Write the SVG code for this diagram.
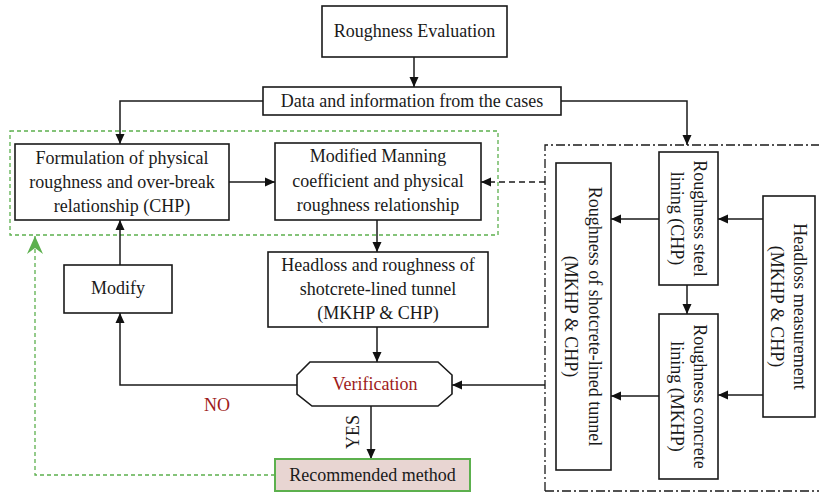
<svg xmlns="http://www.w3.org/2000/svg" width="819" height="494" viewBox="0 0 819 494">
  <defs>
    <style>
      .box { fill: #ffffff; stroke: #1a1a1a; stroke-width: 1.6; }
      .lbl { font-family: "Liberation Serif", "Times New Roman", serif; font-size: 18px; fill: #1a1a1a; text-anchor: middle; }
      .red { fill: #9e1b1b; }
      .wire { fill: none; stroke: #1a1a1a; stroke-width: 1.5; }
      .dash { stroke-dasharray: 6 4; }
      .green { fill: none; stroke: #5cb04e; stroke-width: 1.3; stroke-dasharray: 4 3; }
      .dashdot { fill: none; stroke: #1a1a1a; stroke-width: 1.3; stroke-dasharray: 9 3 2 3; }
    </style>
    <marker id="arrow" viewBox="0 0 10 10" refX="10" refY="5" markerWidth="10" markerHeight="10" markerUnits="userSpaceOnUse" orient="auto">
      <path d="M0,0.5 L10,5 L0,9.5 Z" fill="#111111"/>
    </marker>
    <marker id="garrow" viewBox="0 0 18 16" refX="18" refY="8" markerWidth="18" markerHeight="16" markerUnits="userSpaceOnUse" orient="auto">
      <path d="M0,0 L18,8 L0,16 L6,8 Z" fill="#5cb04e"/>
    </marker>
  </defs>

  <rect width="819" height="494" fill="#ffffff"/>

  <!-- grouping frames -->
  <rect x="10" y="131" width="488" height="104" class="green"/>
  <path d="M545,491 L545,145 L830,145" class="dashdot"/>
  <path d="M545,491 L830,491" class="dashdot" stroke-width="2.2"/>

  <g id="connectors">
    <path d="M414,57 L414,87" class="wire" marker-end="url(#arrow)"/>
    <path d="M263,101 L120,101 L120,144" class="wire" marker-end="url(#arrow)"/>
    <path d="M561,101 L687,101 L687,145" class="wire" marker-end="url(#arrow)"/>
    <path d="M229,182 L275,182" class="wire" marker-end="url(#arrow)"/>
    <path d="M545,182 L481,182" class="wire dash" marker-end="url(#arrow)"/>
    <path d="M377,220 L377,252" class="wire" marker-end="url(#arrow)"/>
    <path d="M377,327 L377,362" class="wire" marker-end="url(#arrow)"/>
    <path d="M120,265 L120,220" class="wire" marker-end="url(#arrow)"/>
    <path d="M297,385 L120,385 L120,313" class="wire" marker-end="url(#arrow)"/>
    <path d="M371,406 L371,459" class="wire" marker-end="url(#arrow)"/>
    <path d="M545,385 L452,385" class="wire" marker-end="url(#arrow)"/>
    <path d="M763,219 L718,219" class="wire" marker-end="url(#arrow)"/>
    <path d="M659,219 L611,219" class="wire" marker-end="url(#arrow)"/>
    <path d="M687,285 L687,314" class="wire" marker-end="url(#arrow)"/>
    <path d="M763,395 L718,395" class="wire" marker-end="url(#arrow)"/>
    <path d="M659,396 L611,396" class="wire" marker-end="url(#arrow)"/>
    <path d="M275,475 L35,475 L35,236" fill="none" stroke="#5cb04e" stroke-width="1.3" stroke-dasharray="4 3" marker-end="url(#garrow)"/>
    <text x="217" y="411" class="lbl red">NO</text>
    <text transform="translate(353,432) rotate(-90)" y="6" class="lbl">YES</text>
  </g>

  <g id="roughness-evaluation">
    <rect x="322" y="6" width="185" height="51" class="box"/>
    <text x="414.5" y="37" class="lbl">Roughness Evaluation</text>
  </g>

  <g id="data-cases">
    <rect x="263" y="87" width="298" height="28" class="box"/>
    <text x="412" y="107" class="lbl">Data and information from the cases</text>
  </g>

  <g id="formulation">
    <rect x="15" y="144" width="214" height="76" class="box"/>
    <text class="lbl"><tspan x="122" y="164">Formulation of physical</tspan><tspan x="122" y="188">roughness and over-break</tspan><tspan x="122" y="212">relationship (CHP)</tspan></text>
  </g>

  <g id="modified-manning">
    <rect x="275" y="143" width="206" height="77" class="box"/>
    <text class="lbl"><tspan x="378" y="162">Modified Manning</tspan><tspan x="378" y="187">coefficient and physical</tspan><tspan x="378" y="211">roughness relationship</tspan></text>
  </g>

  <g id="headloss-roughness">
    <rect x="268" y="252" width="220" height="75" class="box"/>
    <text class="lbl"><tspan x="378" y="271">Headloss and roughness of</tspan><tspan x="378" y="295">shotcrete-lined tunnel</tspan><tspan x="378" y="319">(MKHP &amp; CHP)</tspan></text>
  </g>

  <g id="modify">
    <rect x="64" y="265" width="108" height="48" class="box"/>
    <text x="118" y="294" class="lbl">Modify</text>
  </g>

  <g id="verification">
    <path d="M310,362 L438,362 L452,375 L452,394 L438,406 L312,406 L297,394 L297,375 Z" class="box"/>
    <text x="375" y="390" class="lbl red">Verification</text>
  </g>

  <g id="recommended-method">
    <rect x="275" y="459" width="195" height="32" fill="#e8d5d2" stroke="#5cb04e" stroke-width="2"/>
    <text x="372.5" y="481" class="lbl">Recommended method</text>
  </g>

  <g id="steel-lining">
    <rect x="659" y="152" width="59" height="133" class="box"/>
    <text transform="translate(688.5,218.5) rotate(90)" class="lbl"><tspan x="0" y="-5.5">Roughness steel</tspan><tspan x="0" y="17.5">lining (CHP)</tspan></text>
  </g>

  <g id="concrete-lining">
    <rect x="659" y="314" width="59" height="165" class="box"/>
    <text transform="translate(688.5,396.5) rotate(90)" class="lbl"><tspan x="0" y="-5.5">Roughness concrete</tspan><tspan x="0" y="17.5">lining (MKHP)</tspan></text>
  </g>

  <g id="shotcrete-tunnel">
    <rect x="556" y="163" width="55" height="307" class="box"/>
    <text transform="translate(583.5,316.5) rotate(90)" class="lbl"><tspan x="0" y="-5.5">Roughness of shotcrete-lined tunnel</tspan><tspan x="0" y="18.5">(MKHP &amp; CHP)</tspan></text>
  </g>

  <g id="headloss-measurement">
    <rect x="763" y="196" width="52" height="221" class="box"/>
    <text transform="translate(789,306.5) rotate(90)" class="lbl"><tspan x="0" y="-5">Headloss measurement</tspan><tspan x="0" y="18">(MKHP &amp; CHP)</tspan></text>
  </g>
</svg>
